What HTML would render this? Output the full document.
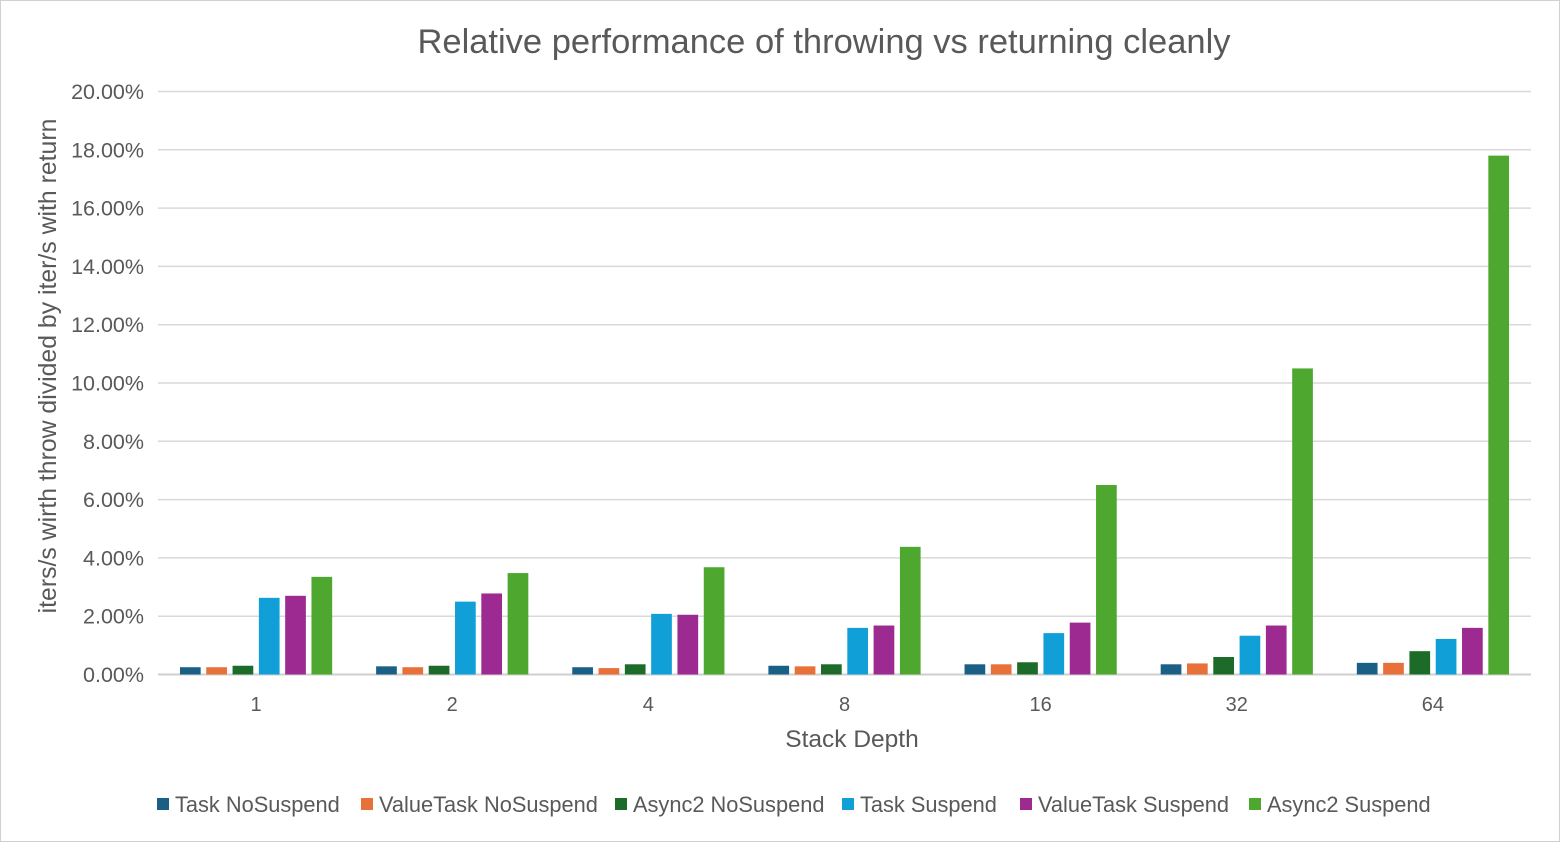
<!DOCTYPE html>
<html><head><meta charset="utf-8"><style>
body{margin:0;background:#fff;font-family:"Liberation Sans",sans-serif;}
#wrap{position:relative;width:1558px;height:840px;border:1px solid #d0d0d0;}
</style></head><body>
<div id="wrap">
<svg id="chart" width="1558" height="840"></svg>
</div>
<script>
const categories=["1","2","4","8","16","32","64"];
const seriesNames=["Task NoSuspend","ValueTask NoSuspend","Async2 NoSuspend","Task Suspend","ValueTask Suspend","Async2 Suspend"];
const taskNoSuspend=[0.25,0.28,0.25,0.3,0.35,0.35,0.4];
const valueTaskNoSuspend=[0.25,0.25,0.22,0.28,0.35,0.38,0.4];
const async2NoSuspend=[0.3,0.3,0.35,0.35,0.42,0.6,0.8];
const taskSuspend=[2.63,2.5,2.08,1.6,1.42,1.33,1.22];
const valueTaskSuspend=[2.7,2.78,2.05,1.68,1.78,1.68,1.6];
const async2Suspend=[3.35,3.48,3.68,4.38,6.5,10.5,17.8];
const yTicks=[0,2,4,6,8,10,12,14,16,18,20];
const colors=["#1a5f86","#e8713a","#1c6b28","#119fd8","#9c2a91","#4ea72e"];
const series=[taskNoSuspend,valueTaskNoSuspend,async2NoSuspend,taskSuspend,valueTaskSuspend,async2Suspend];
const NS="http://www.w3.org/2000/svg";
const svg=document.getElementById('chart');
const x0=157,x1=1530,yBase=673.5,yTop=90.5;
const yScale=v=>yBase-(v/20)*(yBase-yTop);
const band=(x1-x0)/categories.length;
const xCenter=i=>x0+band*(i+0.5);
function mk(t,a,txt){const e=document.createElementNS(NS,t);for(const k in a)e.setAttribute(k,a[k]);if(txt!==undefined)e.textContent=txt;svg.appendChild(e);return e;}
let e=mk('text',{x:823,y:52,'text-anchor':'middle','font-size':34.5,fill:'#595959'},'Relative performance of throwing vs returning cleanly');


yTicks.forEach(t=>{
 const y=yScale(t);
 const l=mk('line',{x1:x0,x2:x1,y1:y,y2:y,stroke:t===0?'#cfcfcf':'#d9d9d9','stroke-width':t===0?2:1.5});
 
 
 const tx=mk('text',{x:143,y:y+7.5,'text-anchor':'end','font-size':21.5,fill:'#595959'},t.toFixed(2)+'%');
 
 
});
const pitch=26.3,bw=20.7;
categories.forEach((c,i)=>{
 const cx=xCenter(i);
 series.forEach((s,j)=>{
  const bx=cx-3*pitch+j*pitch+(pitch-bw)/2;
  const y=yScale(s[i]);
  const r=mk('rect',{x:bx,y:y,width:bw,height:yBase-y,fill:colors[j]});
  
  
 });
 const t=mk('text',{x:cx,y:710,'text-anchor':'middle','font-size':20,fill:'#595959'},c);
 
 
});
e=mk('text',{x:851,y:746,'text-anchor':'middle','font-size':24.5,fill:'#595959'},'Stack Depth');


e=mk('text',{x:0,y:0,'text-anchor':'middle','font-size':24.8,fill:'#595959',transform:'translate(55,365) rotate(-90)'},'iters/s wirth throw divided by iter/s with return');


const legX=[156,360,614,841,1019,1248];
seriesNames.forEach((n,j)=>{
 const g=document.createElementNS(NS,'g');svg.appendChild(g);
 
 
 const r=document.createElementNS(NS,'rect');
 r.setAttribute('x',legX[j]);r.setAttribute('y',797);r.setAttribute('width',12);r.setAttribute('height',12);r.setAttribute('fill',colors[j]);g.appendChild(r);
 const t=document.createElementNS(NS,'text');
 t.setAttribute('x',legX[j]+18);t.setAttribute('y',811);t.setAttribute('font-size',21.8);t.setAttribute('fill','#595959');t.textContent=n;g.appendChild(t);
});
</script>
</body></html>
